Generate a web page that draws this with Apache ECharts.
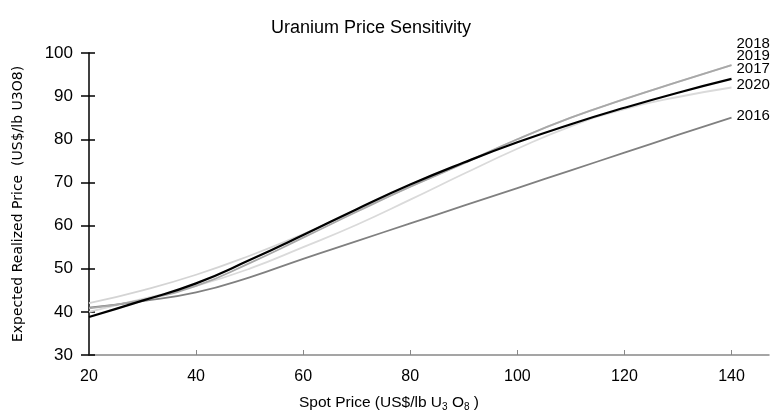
<!DOCTYPE html>
<html><head><meta charset="utf-8">
<script src="https://cdn.jsdelivr.net/npm/echarts@6/dist/echarts.min.js"></script>
<style>html,body{margin:0;padding:0;background:#fff}#c{width:772px;height:412px}</style>
</head><body><div id="c"></div>
<script>
const spot = [20, 30, 40, 50, 60, 70, 80, 90, 100, 110, 120, 130, 140];
const xTicks = [20, 40, 60, 80, 100, 120, 140];
const yTicks = [30, 40, 50, 60, 70, 80, 90, 100];
const s2016 = [41, 42.5, 44.5, 48, 52.3, 56.4, 60.5, 64.6, 68.7, 72.8, 76.9, 81, 85];
const s2017 = [38.8, 42.6, 46.6, 52, 57.8, 63.8, 69.5, 74.6, 79.3, 83.5, 87.3, 90.8, 94];
const s2018 = [40.8, 42.8, 46, 51.3, 57.2, 63.2, 69, 74.4, 80, 85, 89.3, 93.3, 97.2];
const s2019 = [42, 45, 48.6, 53, 58, 63.5, 69, 74.5, 80, 85, 89.3, 93.3, 97.2];
const s2020 = [40, 43, 46, 50, 55, 60.2, 66, 72, 77.8, 83, 87, 89.8, 92];

const font = '"Liberation Sans", Arial, sans-serif';
function mk(name, data, color, width, offY, z) {
  return {
    name: name, type: 'line', smooth: true, showSymbol: false, symbol: 'none', z: z,
    data: spot.map((x, i) => [x, data[i]]),
    lineStyle: {color: color, width: width},
    endLabel: {show: true, formatter: name, color: '#000', fontFamily: font, fontSize: 15,
      distance: 5, offset: [0, offY]},
    emphasis: {disabled: true}
  };
}
const chart = echarts.init(document.getElementById('c'));
chart.setOption({
  animation: false,
  title: {text: 'Uranium Price Sensitivity', left: 366, top: 14, textAlign: 'center',
    textStyle: {fontFamily: font, fontSize: 18, fontWeight: 'normal', color: '#000'}},
  grid: {left: 89, top: 53, width: 680, height: 302, containLabel: false, outerBoundsMode: 'none'},
  xAxis: {type: 'value', min: 20, max: 147,
    name: 'Spot Price (US$/lb U{sub|3} O{sub|8} )', nameLocation: 'middle', nameGap: 38,
    nameTextStyle: {fontFamily: font, fontSize: 15.5, color: '#000', padding: [0, 80, 0, 0],
      rich: {sub: {fontSize: 10, verticalAlign: 'bottom', padding: [9, 0, 0, 0], fontFamily: font}}},
    axisLine: {lineStyle: {color: '#888', width: 1.5}},
    axisTick: {show: true, inside: true, length: 5, lineStyle: {color: '#888'}, customValues: xTicks.slice(1)},
    axisLabel: {customValues: xTicks, fontFamily: font, fontSize: 16, color: '#000', margin: 14},
    splitLine: {show: false}},
  yAxis: [{type: 'value', min: 30, max: 100, interval: 10,
    name: 'Expected Realized Price  (US$/lb U3O8)', nameLocation: 'middle', nameGap: 64, nameRotate: 90,
    nameTextStyle: {fontFamily: '"DejaVu Sans", sans-serif', fontSize: 14, color: '#000'},
    axisLine: {show: true, lineStyle: {color: '#000', width: 1.5}},
    axisTick: {show: true, length: 8, lineStyle: {color: '#000', width: 1.5}},
    axisLabel: {fontFamily: font, fontSize: 17, color: '#000', margin: 16},
    splitLine: {show: false}},
   {type: 'value', min: 30, max: 100, interval: 10, position: 'left',
    axisLine: {show: false}, axisLabel: {show: false}, splitLine: {show: false},
    axisTick: {show: true, inside: true, length: 6, lineStyle: {color: '#000', width: 1.5}}}],
  series: [
    mk('2019', s2019, '#d4d4d4', 1.8, -9, 2),
    mk('2020', s2020, '#dadada', 1.8, -3, 3),
    mk('2016', s2016, '#808080', 1.8, -2, 4),
    mk('2018', s2018, '#a8a8a8', 1.8, -21, 5),
    mk('2017', s2017, '#000000', 2.2, -10, 6)
  ]
});
</script></body></html>
